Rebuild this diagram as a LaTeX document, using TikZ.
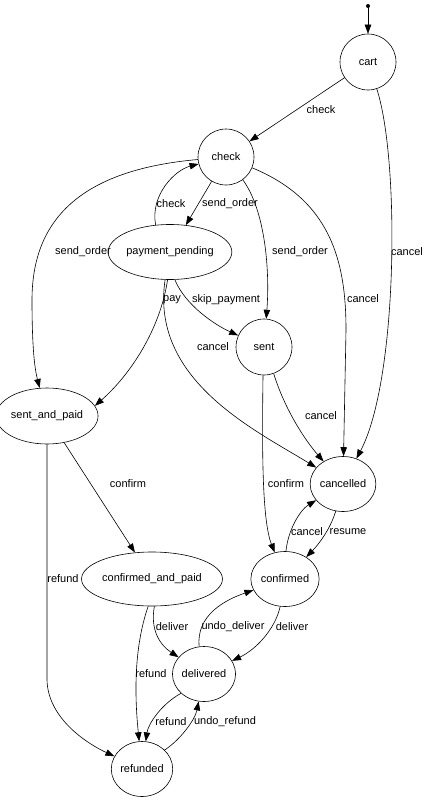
\documentclass[tikz,border=0pt]{standalone}
\usepackage{fontspec}
\setmainfont{Liberation Sans}
\usetikzlibrary{arrows.meta,shapes.geometric}

\begin{document}
\begin{tikzpicture}[x=1pt,y=1pt,line width=0.6pt,
  every node/.style={font=\fontsize{11}{13}\selectfont},
  state/.style={draw,circle,inner sep=0pt,minimum size=56pt},
  wide/.style={draw,ellipse,inner sep=0pt,minimum height=55pt},
  lbl/.style={inner sep=0pt},
  tr/.style={draw,-{Triangle[length=9pt,width=6.5pt]}}]
\useasboundingbox (0,0) rectangle (427,-800);
\fill (368,-6) circle (2pt) coordinate (start);
\node[state] (cart) at (368,-62) {cart};
\node[state] (check) at (226,-157) {check};
\node[wide,minimum width=105pt] (payment_pending) at (170,-252) {payment\_pending};
\node[state] (sent) at (264,-347) {sent};
\node[wide,minimum width=88pt,minimum height=56pt] (sent_and_paid) at (47,-416) {sent\_and\_paid};
\node[wide,minimum width=62pt] (cancelled) at (343,-484) {cancelled};
\node[wide,minimum width=120pt,minimum height=54pt] (confirmed_and_paid) at (152,-579) {confirmed\_and\_paid};
\node[wide,minimum width=64pt] (confirmed) at (285,-579) {confirmed};
\node[wide,minimum width=60pt] (delivered) at (204,-674) {delivered};
\node[wide,minimum width=60pt] (refunded) at (142,-769) {refunded};
\path[tr] (start) -- (cart);
\path[tr] (cart) -- (check) node[lbl] at (321,-110) {check};
\path[tr] (cart) .. controls (400,-160) and (398,-380) .. (cancelled) node[lbl] at (407,-252) {cancel};
\path[tr] (check) .. controls (80,-170) and (32,-220) .. (32,-300) .. controls (32,-350) and (35,-370) .. (sent_and_paid) node[lbl] at (83,-252) {send\_order};
\path[tr] (check) -- (payment_pending) node[lbl] at (230,-204) {send\_order};
\path[tr] (payment_pending.118) .. controls (150,-195) and (175,-170) .. (check) node[lbl] at (171,-204) {check};
\path[tr] (check) .. controls (265,-210) and (270,-270) .. (sent) node[lbl] at (300,-252) {send\_order};
\path[tr] (check) .. controls (330,-200) and (346,-260) .. (346,-330) -- (cancelled) node[lbl] at (363,-299) {cancel};
\path[tr] (payment_pending.-95) .. controls (160,-330) and (130,-375) .. (sent_and_paid.12) node[lbl] at (172,-300) {pay};
\path[tr] (payment_pending.-80) .. controls (185,-305) and (215,-325) .. (sent) node[lbl] at (226,-300) {skip\_payment};
\path[tr] (payment_pending.-100) .. controls (150,-380) and (255,-430) .. (cancelled) node[lbl] at (213,-347) {cancel};
\path[tr] (sent.-70) .. controls (285,-410) and (305,-440) .. (cancelled) node[lbl] at (321,-416) {cancel};
\path[tr] (sent.-92) .. controls (262,-450) and (262,-520) .. (confirmed) node[lbl] at (286,-484) {confirm};
\path[tr] (confirmed.88) .. controls (288,-530) and (300,-510) .. (cancelled) node[lbl] at (307,-532) {cancel};
\path[tr] (cancelled.-105) .. controls (330,-530) and (318,-545) .. (confirmed) node[lbl] at (348,-532) {resume};
\path[tr] (sent_and_paid) -- (confirmed_and_paid) node[lbl] at (128,-484) {confirm};
\path[tr] (sent_and_paid.south) -- (47,-680) .. controls (48,-720) and (90,-745) .. (refunded) node[lbl] at (63,-579) {refund};
\path[tr] (confirmed_and_paid.-98) .. controls (133,-650) and (135,-700) .. (refunded) node[lbl] at (151,-674) {refund};
\path[tr] (confirmed_and_paid.-85) .. controls (150,-630) and (160,-645) .. (delivered) node[lbl] at (172,-627) {deliver};
\path[tr] (delivered.100) .. controls (196,-615) and (225,-600) .. (confirmed) node[lbl] at (233,-627) {undo\_deliver};
\path[tr] (confirmed.-100) .. controls (275,-630) and (255,-650) .. (delivered) node[lbl] at (292,-627) {deliver};
\path[tr] (delivered.-140) .. controls (160,-705) and (148,-725) .. (refunded) node[lbl] at (171,-722) {refund};
\path[tr] (refunded.40) .. controls (180,-740) and (195,-720) .. (delivered) node[lbl] at (225,-722) {undo\_refund};
\end{tikzpicture}
\end{document}
